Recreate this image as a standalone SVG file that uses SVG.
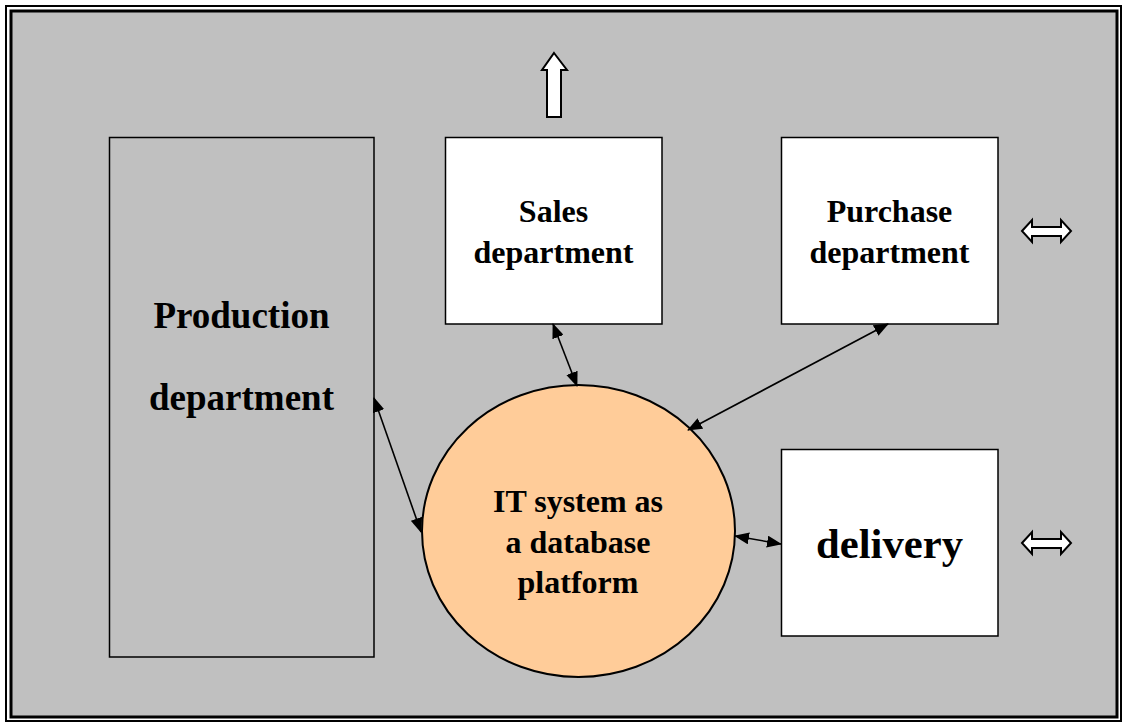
<svg xmlns="http://www.w3.org/2000/svg" width="1123" height="724" viewBox="0 0 1123 724">
<style>
.box{fill:#ffffff;stroke:#000;stroke-width:1.5}
.lbl{font-family:"Liberation Serif","Times New Roman",serif;font-weight:bold;fill:#000;text-anchor:middle}
.con{stroke:#000;stroke-width:1.6;fill:none;marker-start:url(#ah);marker-end:url(#ah)}
.blk{fill:#fff;stroke:#000;stroke-width:2;stroke-linejoin:miter}
</style>
<defs>
<marker id="ah" viewBox="0 0 15 12" refX="14" refY="6" markerWidth="15" markerHeight="12" markerUnits="userSpaceOnUse" orient="auto-start-reverse">
<path d="M0,0 L15,6 L0,12 Z" fill="#000"/>
</marker>
</defs>
<rect x="0" y="0" width="1123" height="724" fill="#fff"/>
<rect x="6" y="6" width="1115" height="715" fill="none" stroke="#000" stroke-width="2"/>
<rect x="11" y="11" width="1106" height="706" fill="#c0c0c0" stroke="#000" stroke-width="3"/>

<g id="production">
<rect class="box" x="109.5" y="137.5" width="264.5" height="519.5" style="fill:#c0c0c0"/>
<text class="lbl" x="241.5" y="328" font-size="37">Production</text>
<text class="lbl" x="241.5" y="410" font-size="37">department</text>
</g>
<g id="sales">
<rect class="box" x="445.5" y="137.5" width="216.5" height="186.5"/>
<text class="lbl" x="553.5" y="222" font-size="32">Sales</text>
<text class="lbl" x="553.5" y="263" font-size="32">department</text>
</g>
<g id="purchase">
<rect class="box" x="781.5" y="137.5" width="216.5" height="186.5"/>
<text class="lbl" x="889.5" y="222" font-size="32">Purchase</text>
<text class="lbl" x="889.5" y="263" font-size="32">department</text>
</g>
<g id="delivery">
<rect class="box" x="781.5" y="449.5" width="216.5" height="186.5"/>
<text class="lbl" x="889.5" y="558" font-size="42.7">delivery</text>
</g>
<g id="itsystem">
<ellipse cx="578.5" cy="531" rx="156.5" ry="146" fill="#ffcc99" stroke="#000" stroke-width="2"/>
<text class="lbl" x="578" y="512" font-size="32">IT system as</text>
<text class="lbl" x="578" y="553" font-size="32">a database</text>
<text class="lbl" x="578" y="593" font-size="32">platform</text>
</g>

<g id="connectors">
<line class="con" x1="374" y1="398" x2="421" y2="532"/>
<line class="con" x1="553" y1="324" x2="577" y2="386"/>
<line class="con" x1="888" y1="324" x2="688" y2="430"/>
<line class="con" x1="735" y1="536" x2="781" y2="544"/>
</g>

<g id="out-arrows">
<path class="blk" d="M554,53 L567,70 L561,70 L561,117 L547,117 L547,70 L542,70 Z"/>
<path class="blk" d="M1022,231 L1032,220 L1032,227 L1061,227 L1061,220 L1071,231 L1061,242 L1061,236 L1032,236 L1032,242 Z"/>
<path class="blk" d="M1022,543 L1032,532 L1032,539 L1061,539 L1061,532 L1071,543 L1061,554 L1061,548 L1032,548 L1032,554 Z"/>
</g>
</svg>
